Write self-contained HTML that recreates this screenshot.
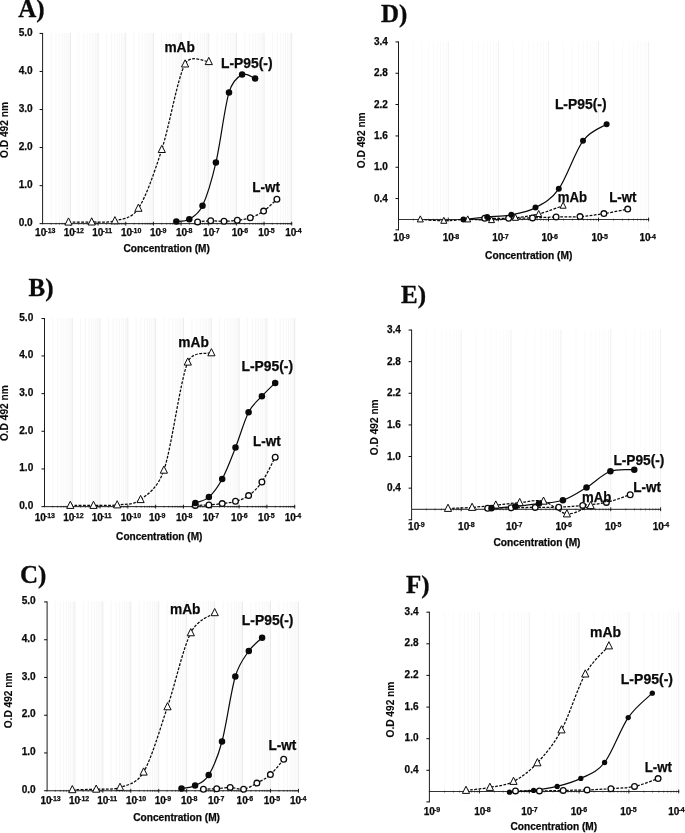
<!DOCTYPE html>
<html lang="en">
<head>
<meta charset="utf-8">
<title>ELISA binding curves A-F</title>
<style>
html,body{margin:0;padding:0;background:#fff;}
body{width:685px;height:833px;overflow:hidden;}
svg{display:block;will-change:transform;opacity:0.999;}
svg text{font-family:"Liberation Sans", Arial, Helvetica, sans-serif;font-weight:700;fill:#0a0a0a;stroke:#0a0a0a;stroke-width:0.25px;}
svg text.yt{stroke-width:0.1px;}
svg text.pn{font-family:"Liberation Serif", "Times New Roman", serif;stroke-width:0.3px;}
</style>
</head>
<body>
<svg width="685" height="833" viewBox="0 0 685 833">
<rect x="0" y="0" width="685" height="833" fill="#fff"/>
<g>
<path d="M51.13 32.9V223.1M56 32.9V223.1M59.45 32.9V223.1M62.13 32.9V223.1M64.32 32.9V223.1M66.17 32.9V223.1M67.78 32.9V223.1M69.19 32.9V223.1M78.78 32.9V223.1M83.65 32.9V223.1M87.11 32.9V223.1M89.79 32.9V223.1M91.98 32.9V223.1M93.83 32.9V223.1M95.43 32.9V223.1M96.85 32.9V223.1M106.44 32.9V223.1M111.31 32.9V223.1M114.76 32.9V223.1M117.44 32.9V223.1M119.63 32.9V223.1M121.48 32.9V223.1M123.09 32.9V223.1M124.5 32.9V223.1M134.09 32.9V223.1M138.96 32.9V223.1M142.42 32.9V223.1M145.1 32.9V223.1M147.29 32.9V223.1M149.14 32.9V223.1M150.74 32.9V223.1M152.16 32.9V223.1M161.75 32.9V223.1M166.62 32.9V223.1M170.07 32.9V223.1M172.75 32.9V223.1M174.94 32.9V223.1M176.79 32.9V223.1M178.4 32.9V223.1M179.81 32.9V223.1M189.4 32.9V223.1M194.27 32.9V223.1M197.73 32.9V223.1M200.41 32.9V223.1M202.6 32.9V223.1M204.45 32.9V223.1M206.05 32.9V223.1M207.47 32.9V223.1M217.06 32.9V223.1M221.93 32.9V223.1M225.38 32.9V223.1M228.06 32.9V223.1M230.25 32.9V223.1M232.1 32.9V223.1M233.71 32.9V223.1M235.12 32.9V223.1M244.71 32.9V223.1M249.58 32.9V223.1M253.04 32.9V223.1M255.72 32.9V223.1M257.91 32.9V223.1M259.76 32.9V223.1M261.36 32.9V223.1M262.78 32.9V223.1M272.37 32.9V223.1M277.24 32.9V223.1M280.69 32.9V223.1M283.37 32.9V223.1M285.56 32.9V223.1M287.42 32.9V223.1M289.02 32.9V223.1M290.43 32.9V223.1" stroke="#f6f6f6" stroke-width="0.9" fill="none"/>
<path d="M70.46 32.9V223.1M98.11 32.9V223.1M125.77 32.9V223.1M153.42 32.9V223.1M181.08 32.9V223.1M208.73 32.9V223.1M236.39 32.9V223.1M264.04 32.9V223.1M291.7 32.9V223.1" stroke="#ebebeb" stroke-width="1" fill="none"/>
<path d="M42.6 32.95V224.15" stroke="#1c1c1c" stroke-width="1" fill="none"/>
<path d="M42.1 223.65H292.2" stroke="#1c1c1c" stroke-width="1" fill="none"/>
<path d="M39.6 33.45H42.6M39.6 71.45H42.6M39.6 109.55H42.6M39.6 147.55H42.6M39.6 185.65H42.6M39.6 223.65H42.6" stroke="#0a0a0a" stroke-width="1" fill="none"/>
<path d="M51.13 222.75V224.95M56 222.75V224.95M59.45 222.75V224.95M62.13 222.75V224.95M64.32 222.75V224.95M66.17 222.75V224.95M67.78 222.75V224.95M69.19 222.75V224.95M78.78 222.75V224.95M83.65 222.75V224.95M87.11 222.75V224.95M89.79 222.75V224.95M91.98 222.75V224.95M93.83 222.75V224.95M95.43 222.75V224.95M96.85 222.75V224.95M106.44 222.75V224.95M111.31 222.75V224.95M114.76 222.75V224.95M117.44 222.75V224.95M119.63 222.75V224.95M121.48 222.75V224.95M123.09 222.75V224.95M124.5 222.75V224.95M134.09 222.75V224.95M138.96 222.75V224.95M142.42 222.75V224.95M145.1 222.75V224.95M147.29 222.75V224.95M149.14 222.75V224.95M150.74 222.75V224.95M152.16 222.75V224.95M161.75 222.75V224.95M166.62 222.75V224.95M170.07 222.75V224.95M172.75 222.75V224.95M174.94 222.75V224.95M176.79 222.75V224.95M178.4 222.75V224.95M179.81 222.75V224.95M189.4 222.75V224.95M194.27 222.75V224.95M197.73 222.75V224.95M200.41 222.75V224.95M202.6 222.75V224.95M204.45 222.75V224.95M206.05 222.75V224.95M207.47 222.75V224.95M217.06 222.75V224.95M221.93 222.75V224.95M225.38 222.75V224.95M228.06 222.75V224.95M230.25 222.75V224.95M232.1 222.75V224.95M233.71 222.75V224.95M235.12 222.75V224.95M244.71 222.75V224.95M249.58 222.75V224.95M253.04 222.75V224.95M255.72 222.75V224.95M257.91 222.75V224.95M259.76 222.75V224.95M261.36 222.75V224.95M262.78 222.75V224.95M272.37 222.75V224.95M277.24 222.75V224.95M280.69 222.75V224.95M283.37 222.75V224.95M285.56 222.75V224.95M287.42 222.75V224.95M289.02 222.75V224.95M290.43 222.75V224.95" stroke="#0a0a0a" stroke-width="0.55" fill="none" opacity="0.7"/>
<path d="M70.46 221.75V225.55M98.11 221.75V225.55M125.77 221.75V225.55M153.42 221.75V225.55M181.08 221.75V225.55M208.73 221.75V225.55M236.39 221.75V225.55M264.04 221.75V225.55M291.7 221.75V225.55" stroke="#0a0a0a" stroke-width="0.9" fill="none"/>
<text x="32.7" y="35.99" text-anchor="end" font-size="10.1">5.0</text>
<text x="32.7" y="73.99" text-anchor="end" font-size="10.1">4.0</text>
<text x="32.7" y="112.09" text-anchor="end" font-size="10.1">3.0</text>
<text x="32.7" y="150.09" text-anchor="end" font-size="10.1">2.0</text>
<text x="32.7" y="188.19" text-anchor="end" font-size="10.1">1.0</text>
<text x="32.7" y="226.19" text-anchor="end" font-size="10.1">0.0</text>
<text x="35.1" y="236.1" font-size="10">10</text><text x="45.3" y="233.4" font-size="7">-13</text>
<text x="63.7" y="236.1" font-size="10">10</text><text x="73.9" y="233.4" font-size="7">-12</text>
<text x="92.3" y="236.1" font-size="10">10</text><text x="102.5" y="233.4" font-size="7">-11</text>
<text x="121" y="236.1" font-size="10">10</text><text x="131.2" y="233.4" font-size="7">-10</text>
<text x="150" y="236.1" font-size="10">10</text><text x="160.2" y="233.4" font-size="7">-9</text>
<text x="176" y="236.1" font-size="10">10</text><text x="186.2" y="233.4" font-size="7">-8</text>
<text x="203.1" y="236.1" font-size="10">10</text><text x="213.3" y="233.4" font-size="7">-7</text>
<text x="231.7" y="236.1" font-size="10">10</text><text x="241.9" y="233.4" font-size="7">-6</text>
<text x="258.3" y="236.1" font-size="10">10</text><text x="268.5" y="233.4" font-size="7">-5</text>
<text x="285.3" y="236.1" font-size="10">10</text><text x="295.5" y="233.4" font-size="7">-4</text>
<text x="123.5" y="251.7" font-size="10" textLength="86.3" lengthAdjust="spacingAndGlyphs">Concentration (M)</text>
<text class="yt" transform="translate(8.3 130) rotate(-90)" x="-27.9" font-size="10.4" textLength="55.8" lengthAdjust="spacingAndGlyphs">O.D 492 nm</text>
<text class="pn" x="18.2" y="16.7" font-size="25">A)</text>
<path d="M68.5 222.1 C72.37 222.08 83.97 222.22 91.7 222 C99.43 221.78 107.12 223.08 114.9 220.8 C122.68 218.52 131.09 219.42 138.4 208.3 C146.22 196.42 154.02 173.55 161.8 149.5 C169.58 125.45 177.27 78.65 185.1 64 C190.72 53.5 204.85 62 208.8 61.6" stroke="#0a0a0a" stroke-width="1.25" stroke-dasharray="2.8 1.4" fill="none"/>
<path d="M197.6 221.9 C199.78 221.72 206.3 220.9 210.7 220.8 C215.1 220.7 219.57 221.38 224 221.3 C228.43 221.22 232.92 220.88 237.3 220.3 C241.68 219.72 245.92 219.33 250.3 217.8 C254.68 216.27 259.17 214.18 263.6 211.1 C268.03 208.02 274.68 201.27 276.9 199.3" stroke="#0a0a0a" stroke-width="1.25" stroke-dasharray="2.8 1.4" fill="none"/>
<path d="M176.3 221.6 C178.47 221.22 184.93 221.93 189.3 219.3 C193.67 216.67 198.49 214.35 202.5 205.8 C206.93 196.35 211.48 181.5 215.9 162.6 C220.32 143.7 224.63 107.07 229 92.4 C232.15 81.81 237.75 76.9 242.1 74.6 C246.45 72.3 252.93 77.93 255.1 78.6" stroke="#0a0a0a" stroke-width="1.2" fill="none"/>
<path d="M68.5 217.9L72.1 225.1L64.9 225.1Z" fill="#fff" stroke="#0a0a0a" stroke-width="1"/>
<path d="M91.7 217.8L95.3 225L88.1 225Z" fill="#fff" stroke="#0a0a0a" stroke-width="1"/>
<path d="M114.9 216.6L118.5 223.8L111.3 223.8Z" fill="#fff" stroke="#0a0a0a" stroke-width="1"/>
<path d="M138.4 204.1L142 211.3L134.8 211.3Z" fill="#fff" stroke="#0a0a0a" stroke-width="1"/>
<path d="M161.8 145.3L165.4 152.5L158.2 152.5Z" fill="#fff" stroke="#0a0a0a" stroke-width="1"/>
<path d="M185.1 59.8L188.7 67L181.5 67Z" fill="#fff" stroke="#0a0a0a" stroke-width="1"/>
<path d="M208.8 57.4L212.4 64.6L205.2 64.6Z" fill="#fff" stroke="#0a0a0a" stroke-width="1"/>
<circle cx="197.6" cy="221.9" r="2.85" fill="#fff" stroke="#0a0a0a" stroke-width="1.3"/>
<circle cx="210.7" cy="220.8" r="2.85" fill="#fff" stroke="#0a0a0a" stroke-width="1.3"/>
<circle cx="224" cy="221.3" r="2.85" fill="#fff" stroke="#0a0a0a" stroke-width="1.3"/>
<circle cx="237.3" cy="220.3" r="2.85" fill="#fff" stroke="#0a0a0a" stroke-width="1.3"/>
<circle cx="250.3" cy="217.8" r="2.85" fill="#fff" stroke="#0a0a0a" stroke-width="1.3"/>
<circle cx="263.6" cy="211.1" r="2.85" fill="#fff" stroke="#0a0a0a" stroke-width="1.3"/>
<circle cx="276.9" cy="199.3" r="2.85" fill="#fff" stroke="#0a0a0a" stroke-width="1.3"/>
<circle cx="176.3" cy="221.6" r="3.25" fill="#0a0a0a"/>
<circle cx="189.3" cy="219.3" r="3.25" fill="#0a0a0a"/>
<circle cx="202.5" cy="205.8" r="3.25" fill="#0a0a0a"/>
<circle cx="215.9" cy="162.6" r="3.25" fill="#0a0a0a"/>
<circle cx="229" cy="92.4" r="3.25" fill="#0a0a0a"/>
<circle cx="242.1" cy="74.6" r="3.25" fill="#0a0a0a"/>
<circle cx="255.1" cy="78.6" r="3.25" fill="#0a0a0a"/>
<text x="164.4" y="52.2" font-size="13.8" textLength="30.5" lengthAdjust="spacingAndGlyphs">mAb</text>
<text x="221" y="68.3" font-size="13.8" textLength="51.6" lengthAdjust="spacingAndGlyphs">L-P95(-)</text>
<text x="252.3" y="191.5" font-size="13.8" textLength="27.7" lengthAdjust="spacingAndGlyphs">L-wt</text>
</g>
<g>
<path d="M52.77 318V506.1M57.67 318V506.1M61.14 318V506.1M63.84 318V506.1M66.04 318V506.1M67.9 318V506.1M69.52 318V506.1M70.94 318V506.1M80.58 318V506.1M85.48 318V506.1M88.96 318V506.1M91.65 318V506.1M93.85 318V506.1M95.71 318V506.1M97.33 318V506.1M98.75 318V506.1M108.39 318V506.1M113.29 318V506.1M116.77 318V506.1M119.46 318V506.1M121.66 318V506.1M123.53 318V506.1M125.14 318V506.1M126.56 318V506.1M136.21 318V506.1M141.1 318V506.1M144.58 318V506.1M147.27 318V506.1M149.47 318V506.1M151.34 318V506.1M152.95 318V506.1M154.37 318V506.1M164.02 318V506.1M168.91 318V506.1M172.39 318V506.1M175.08 318V506.1M177.29 318V506.1M179.15 318V506.1M180.76 318V506.1M182.18 318V506.1M191.83 318V506.1M196.72 318V506.1M200.2 318V506.1M202.89 318V506.1M205.1 318V506.1M206.96 318V506.1M208.57 318V506.1M209.99 318V506.1M219.64 318V506.1M224.54 318V506.1M228.01 318V506.1M230.71 318V506.1M232.91 318V506.1M234.77 318V506.1M236.38 318V506.1M237.81 318V506.1M247.45 318V506.1M252.35 318V506.1M255.82 318V506.1M258.52 318V506.1M260.72 318V506.1M262.58 318V506.1M264.19 318V506.1M265.62 318V506.1M275.26 318V506.1M280.16 318V506.1M283.63 318V506.1M286.33 318V506.1M288.53 318V506.1M290.39 318V506.1M292 318V506.1M293.43 318V506.1" stroke="#f6f6f6" stroke-width="0.9" fill="none"/>
<path d="M72.21 318V506.1M100.02 318V506.1M127.83 318V506.1M155.64 318V506.1M183.46 318V506.1M211.27 318V506.1M239.08 318V506.1M266.89 318V506.1M294.7 318V506.1" stroke="#ebebeb" stroke-width="1" fill="none"/>
<path d="M44.5 318.05V507.15" stroke="#1c1c1c" stroke-width="1" fill="none"/>
<path d="M44 506.65H295.2" stroke="#1c1c1c" stroke-width="1" fill="none"/>
<path d="M41.5 318.55H44.5M41.5 355.95H44.5M41.5 393.65H44.5M41.5 431.25H44.5M41.5 468.95H44.5M41.5 506.65H44.5" stroke="#0a0a0a" stroke-width="1" fill="none"/>
<path d="M52.77 505.75V507.95M57.67 505.75V507.95M61.14 505.75V507.95M63.84 505.75V507.95M66.04 505.75V507.95M67.9 505.75V507.95M69.52 505.75V507.95M70.94 505.75V507.95M80.58 505.75V507.95M85.48 505.75V507.95M88.96 505.75V507.95M91.65 505.75V507.95M93.85 505.75V507.95M95.71 505.75V507.95M97.33 505.75V507.95M98.75 505.75V507.95M108.39 505.75V507.95M113.29 505.75V507.95M116.77 505.75V507.95M119.46 505.75V507.95M121.66 505.75V507.95M123.53 505.75V507.95M125.14 505.75V507.95M126.56 505.75V507.95M136.21 505.75V507.95M141.1 505.75V507.95M144.58 505.75V507.95M147.27 505.75V507.95M149.47 505.75V507.95M151.34 505.75V507.95M152.95 505.75V507.95M154.37 505.75V507.95M164.02 505.75V507.95M168.91 505.75V507.95M172.39 505.75V507.95M175.08 505.75V507.95M177.29 505.75V507.95M179.15 505.75V507.95M180.76 505.75V507.95M182.18 505.75V507.95M191.83 505.75V507.95M196.72 505.75V507.95M200.2 505.75V507.95M202.89 505.75V507.95M205.1 505.75V507.95M206.96 505.75V507.95M208.57 505.75V507.95M209.99 505.75V507.95M219.64 505.75V507.95M224.54 505.75V507.95M228.01 505.75V507.95M230.71 505.75V507.95M232.91 505.75V507.95M234.77 505.75V507.95M236.38 505.75V507.95M237.81 505.75V507.95M247.45 505.75V507.95M252.35 505.75V507.95M255.82 505.75V507.95M258.52 505.75V507.95M260.72 505.75V507.95M262.58 505.75V507.95M264.19 505.75V507.95M265.62 505.75V507.95M275.26 505.75V507.95M280.16 505.75V507.95M283.63 505.75V507.95M286.33 505.75V507.95M288.53 505.75V507.95M290.39 505.75V507.95M292 505.75V507.95M293.43 505.75V507.95" stroke="#0a0a0a" stroke-width="0.55" fill="none" opacity="0.7"/>
<path d="M72.21 504.75V508.55M100.02 504.75V508.55M127.83 504.75V508.55M155.64 504.75V508.55M183.46 504.75V508.55M211.27 504.75V508.55M239.08 504.75V508.55M266.89 504.75V508.55M294.7 504.75V508.55" stroke="#0a0a0a" stroke-width="0.9" fill="none"/>
<text x="33.3" y="321.09" text-anchor="end" font-size="10.1">5.0</text>
<text x="33.3" y="358.49" text-anchor="end" font-size="10.1">4.0</text>
<text x="33.3" y="396.19" text-anchor="end" font-size="10.1">3.0</text>
<text x="33.3" y="433.79" text-anchor="end" font-size="10.1">2.0</text>
<text x="33.3" y="471.49" text-anchor="end" font-size="10.1">1.0</text>
<text x="33.3" y="509.19" text-anchor="end" font-size="10.1">0.0</text>
<text x="34.7" y="520.9" font-size="10">10</text><text x="44.9" y="518.2" font-size="7">-13</text>
<text x="63.3" y="520.9" font-size="10">10</text><text x="73.5" y="518.2" font-size="7">-12</text>
<text x="91.7" y="520.9" font-size="10">10</text><text x="101.9" y="518.2" font-size="7">-11</text>
<text x="120.8" y="520.9" font-size="10">10</text><text x="131" y="518.2" font-size="7">-10</text>
<text x="149" y="520.9" font-size="10">10</text><text x="159.2" y="518.2" font-size="7">-9</text>
<text x="176" y="520.9" font-size="10">10</text><text x="186.2" y="518.2" font-size="7">-8</text>
<text x="202.7" y="520.9" font-size="10">10</text><text x="212.9" y="518.2" font-size="7">-7</text>
<text x="231.1" y="520.9" font-size="10">10</text><text x="241.3" y="518.2" font-size="7">-6</text>
<text x="258.1" y="520.9" font-size="10">10</text><text x="268.3" y="518.2" font-size="7">-5</text>
<text x="284.7" y="520.9" font-size="10">10</text><text x="294.9" y="518.2" font-size="7">-4</text>
<text x="116.1" y="540" font-size="10" textLength="86.3" lengthAdjust="spacingAndGlyphs">Concentration (M)</text>
<text class="yt" transform="translate(8.3 413.2) rotate(-90)" x="-27.9" font-size="10.4" textLength="55.8" lengthAdjust="spacingAndGlyphs">O.D 492 nm</text>
<text class="pn" x="28.6" y="296.2" font-size="25">B)</text>
<path d="M70.3 505.4 C74.17 505.4 85.68 505.48 93.5 505.4 C101.32 505.32 109.35 505.87 117.2 504.9 C125.05 503.93 132.82 505.38 140.6 499.6 C148.38 493.82 157.81 487.94 163.9 470.2 C171.77 447.28 179.88 381.67 187.8 362.1 C192.56 350.34 207.47 354.35 211.4 352.8" stroke="#0a0a0a" stroke-width="1.25" stroke-dasharray="2.8 1.4" fill="none"/>
<path d="M195.3 505.4 C197.57 505.32 204.42 505.2 208.9 504.9 C213.38 504.6 217.77 504.2 222.2 503.6 C226.63 503 231.1 502.63 235.5 501.3 C239.9 499.97 244.2 498.82 248.6 495.6 C253 492.38 257.47 488.4 261.9 482 C266.33 475.6 272.98 461.33 275.2 457.2" stroke="#0a0a0a" stroke-width="1.25" stroke-dasharray="2.8 1.4" fill="none"/>
<path d="M195.3 502.9 C197.57 501.93 204.42 501.08 208.9 497.1 C213.38 493.12 217.77 487.25 222.2 479 C226.63 470.75 231.1 458.72 235.5 447.6 C239.9 436.48 244.2 420.87 248.6 412.3 C253 403.73 257.47 401.1 261.9 396.2 C266.33 391.3 272.98 385.12 275.2 382.9" stroke="#0a0a0a" stroke-width="1.2" fill="none"/>
<path d="M70.3 501.2L73.9 508.4L66.7 508.4Z" fill="#fff" stroke="#0a0a0a" stroke-width="1"/>
<path d="M93.5 501.2L97.1 508.4L89.9 508.4Z" fill="#fff" stroke="#0a0a0a" stroke-width="1"/>
<path d="M117.2 500.7L120.8 507.9L113.6 507.9Z" fill="#fff" stroke="#0a0a0a" stroke-width="1"/>
<path d="M140.6 495.4L144.2 502.6L137 502.6Z" fill="#fff" stroke="#0a0a0a" stroke-width="1"/>
<path d="M163.9 466L167.5 473.2L160.3 473.2Z" fill="#fff" stroke="#0a0a0a" stroke-width="1"/>
<path d="M187.8 357.9L191.4 365.1L184.2 365.1Z" fill="#fff" stroke="#0a0a0a" stroke-width="1"/>
<path d="M211.4 348.6L215 355.8L207.8 355.8Z" fill="#fff" stroke="#0a0a0a" stroke-width="1"/>
<circle cx="195.3" cy="505.4" r="2.85" fill="#fff" stroke="#0a0a0a" stroke-width="1.3"/>
<circle cx="208.9" cy="504.9" r="2.85" fill="#fff" stroke="#0a0a0a" stroke-width="1.3"/>
<circle cx="222.2" cy="503.6" r="2.85" fill="#fff" stroke="#0a0a0a" stroke-width="1.3"/>
<circle cx="235.5" cy="501.3" r="2.85" fill="#fff" stroke="#0a0a0a" stroke-width="1.3"/>
<circle cx="248.6" cy="495.6" r="2.85" fill="#fff" stroke="#0a0a0a" stroke-width="1.3"/>
<circle cx="261.9" cy="482" r="2.85" fill="#fff" stroke="#0a0a0a" stroke-width="1.3"/>
<circle cx="275.2" cy="457.2" r="2.85" fill="#fff" stroke="#0a0a0a" stroke-width="1.3"/>
<circle cx="195.3" cy="502.9" r="3.25" fill="#0a0a0a"/>
<circle cx="208.9" cy="497.1" r="3.25" fill="#0a0a0a"/>
<circle cx="222.2" cy="479" r="3.25" fill="#0a0a0a"/>
<circle cx="235.5" cy="447.6" r="3.25" fill="#0a0a0a"/>
<circle cx="248.6" cy="412.3" r="3.25" fill="#0a0a0a"/>
<circle cx="261.9" cy="396.2" r="3.25" fill="#0a0a0a"/>
<circle cx="275.2" cy="382.9" r="3.25" fill="#0a0a0a"/>
<text x="178.3" y="347.3" font-size="13.8" textLength="30.5" lengthAdjust="spacingAndGlyphs">mAb</text>
<text x="241.5" y="371.3" font-size="13.8" textLength="51.6" lengthAdjust="spacingAndGlyphs">L-P95(-)</text>
<text x="253.1" y="445.6" font-size="13.8" textLength="27.7" lengthAdjust="spacingAndGlyphs">L-wt</text>
</g>
<g>
<path d="M55.32 601.4V790.2M60.24 601.4V790.2M63.73 601.4V790.2M66.44 601.4V790.2M68.65 601.4V790.2M70.53 601.4V790.2M72.15 601.4V790.2M73.58 601.4V790.2M83.27 601.4V790.2M88.19 601.4V790.2M91.69 601.4V790.2M94.4 601.4V790.2M96.61 601.4V790.2M98.48 601.4V790.2M100.1 601.4V790.2M101.53 601.4V790.2M111.23 601.4V790.2M116.15 601.4V790.2M119.64 601.4V790.2M122.35 601.4V790.2M124.56 601.4V790.2M126.44 601.4V790.2M128.06 601.4V790.2M129.49 601.4V790.2M139.18 601.4V790.2M144.1 601.4V790.2M147.6 601.4V790.2M150.31 601.4V790.2M152.52 601.4V790.2M154.39 601.4V790.2M156.01 601.4V790.2M157.44 601.4V790.2M167.14 601.4V790.2M172.06 601.4V790.2M175.55 601.4V790.2M178.26 601.4V790.2M180.48 601.4V790.2M182.35 601.4V790.2M183.97 601.4V790.2M185.4 601.4V790.2M195.09 601.4V790.2M200.02 601.4V790.2M203.51 601.4V790.2M206.22 601.4V790.2M208.43 601.4V790.2M210.3 601.4V790.2M211.92 601.4V790.2M213.35 601.4V790.2M223.05 601.4V790.2M227.97 601.4V790.2M231.46 601.4V790.2M234.17 601.4V790.2M236.39 601.4V790.2M238.26 601.4V790.2M239.88 601.4V790.2M241.31 601.4V790.2M251 601.4V790.2M255.93 601.4V790.2M259.42 601.4V790.2M262.13 601.4V790.2M264.34 601.4V790.2M266.21 601.4V790.2M267.84 601.4V790.2M269.27 601.4V790.2M278.96 601.4V790.2M283.88 601.4V790.2M287.38 601.4V790.2M290.08 601.4V790.2M292.3 601.4V790.2M294.17 601.4V790.2M295.79 601.4V790.2M297.22 601.4V790.2" stroke="#f6f6f6" stroke-width="0.9" fill="none"/>
<path d="M74.86 601.4V790.2M102.81 601.4V790.2M130.77 601.4V790.2M158.72 601.4V790.2M186.68 601.4V790.2M214.63 601.4V790.2M242.59 601.4V790.2M270.54 601.4V790.2M298.5 601.4V790.2" stroke="#ebebeb" stroke-width="1" fill="none"/>
<path d="M47.1 601.45V791.25" stroke="#1c1c1c" stroke-width="1" fill="none"/>
<path d="M46.6 790.75H299" stroke="#1c1c1c" stroke-width="1" fill="none"/>
<path d="M44.1 601.95H47.1M44.1 639.75H47.1M44.1 677.45H47.1M44.1 715.25H47.1M44.1 752.95H47.1M44.1 790.75H47.1" stroke="#0a0a0a" stroke-width="1" fill="none"/>
<path d="M55.32 789.85V792.05M60.24 789.85V792.05M63.73 789.85V792.05M66.44 789.85V792.05M68.65 789.85V792.05M70.53 789.85V792.05M72.15 789.85V792.05M73.58 789.85V792.05M83.27 789.85V792.05M88.19 789.85V792.05M91.69 789.85V792.05M94.4 789.85V792.05M96.61 789.85V792.05M98.48 789.85V792.05M100.1 789.85V792.05M101.53 789.85V792.05M111.23 789.85V792.05M116.15 789.85V792.05M119.64 789.85V792.05M122.35 789.85V792.05M124.56 789.85V792.05M126.44 789.85V792.05M128.06 789.85V792.05M129.49 789.85V792.05M139.18 789.85V792.05M144.1 789.85V792.05M147.6 789.85V792.05M150.31 789.85V792.05M152.52 789.85V792.05M154.39 789.85V792.05M156.01 789.85V792.05M157.44 789.85V792.05M167.14 789.85V792.05M172.06 789.85V792.05M175.55 789.85V792.05M178.26 789.85V792.05M180.48 789.85V792.05M182.35 789.85V792.05M183.97 789.85V792.05M185.4 789.85V792.05M195.09 789.85V792.05M200.02 789.85V792.05M203.51 789.85V792.05M206.22 789.85V792.05M208.43 789.85V792.05M210.3 789.85V792.05M211.92 789.85V792.05M213.35 789.85V792.05M223.05 789.85V792.05M227.97 789.85V792.05M231.46 789.85V792.05M234.17 789.85V792.05M236.39 789.85V792.05M238.26 789.85V792.05M239.88 789.85V792.05M241.31 789.85V792.05M251 789.85V792.05M255.93 789.85V792.05M259.42 789.85V792.05M262.13 789.85V792.05M264.34 789.85V792.05M266.21 789.85V792.05M267.84 789.85V792.05M269.27 789.85V792.05M278.96 789.85V792.05M283.88 789.85V792.05M287.38 789.85V792.05M290.08 789.85V792.05M292.3 789.85V792.05M294.17 789.85V792.05M295.79 789.85V792.05M297.22 789.85V792.05" stroke="#0a0a0a" stroke-width="0.55" fill="none" opacity="0.7"/>
<path d="M74.86 788.85V792.65M102.81 788.85V792.65M130.77 788.85V792.65M158.72 788.85V792.65M186.68 788.85V792.65M214.63 788.85V792.65M242.59 788.85V792.65M270.54 788.85V792.65M298.5 788.85V792.65" stroke="#0a0a0a" stroke-width="0.9" fill="none"/>
<text x="35.7" y="604.19" text-anchor="end" font-size="10.1">5.0</text>
<text x="35.7" y="641.99" text-anchor="end" font-size="10.1">4.0</text>
<text x="35.7" y="679.69" text-anchor="end" font-size="10.1">3.0</text>
<text x="35.7" y="717.49" text-anchor="end" font-size="10.1">2.0</text>
<text x="35.7" y="755.19" text-anchor="end" font-size="10.1">1.0</text>
<text x="35.7" y="792.99" text-anchor="end" font-size="10.1">0.0</text>
<text x="40.4" y="804" font-size="10">10</text><text x="50.6" y="801.3" font-size="7">-13</text>
<text x="68.9" y="804" font-size="10">10</text><text x="79.1" y="801.3" font-size="7">-12</text>
<text x="97.3" y="804" font-size="10">10</text><text x="107.5" y="801.3" font-size="7">-11</text>
<text x="125.9" y="804" font-size="10">10</text><text x="136.1" y="801.3" font-size="7">-10</text>
<text x="154.7" y="804" font-size="10">10</text><text x="164.9" y="801.3" font-size="7">-9</text>
<text x="181" y="804" font-size="10">10</text><text x="191.2" y="801.3" font-size="7">-8</text>
<text x="207.9" y="804" font-size="10">10</text><text x="218.1" y="801.3" font-size="7">-7</text>
<text x="236.6" y="804" font-size="10">10</text><text x="246.8" y="801.3" font-size="7">-6</text>
<text x="263.7" y="804" font-size="10">10</text><text x="273.9" y="801.3" font-size="7">-5</text>
<text x="289.9" y="804" font-size="10">10</text><text x="300.1" y="801.3" font-size="7">-4</text>
<text x="133.2" y="820.6" font-size="10" textLength="86.8" lengthAdjust="spacingAndGlyphs">Concentration (M)</text>
<text class="yt" transform="translate(12.2 700.4) rotate(-90)" x="-27.9" font-size="10.4" textLength="55.8" lengthAdjust="spacingAndGlyphs">O.D 492 nm</text>
<text class="pn" x="20" y="583" font-size="25">C)</text>
<path d="M72.3 789.7 C76.28 789.62 88.25 789.58 96.2 789.2 C104.15 788.82 112.1 790.25 120 787.4 C127.9 784.55 136.46 784.22 143.6 772.1 C151.52 758.67 159.63 730.02 167.5 706.8 C175.37 683.58 182.93 648.48 190.8 632.8 C197.8 618.84 210.72 616.05 214.7 612.7" stroke="#0a0a0a" stroke-width="1.25" stroke-dasharray="2.8 1.4" fill="none"/>
<path d="M203.4 789.2 C205.62 789.12 212.23 789 216.7 788.7 C221.17 788.4 225.72 787.32 230.2 787.4 C234.68 787.48 239.15 789.92 243.6 789.2 C248.05 788.48 252.43 785.53 256.9 783.1 C261.37 780.67 265.93 778.57 270.4 774.6 C274.87 770.63 281.48 761.85 283.7 759.3" stroke="#0a0a0a" stroke-width="1.25" stroke-dasharray="2.8 1.4" fill="none"/>
<path d="M181.5 788.4 C183.77 787.93 190.57 787.82 195.1 785.6 C199.63 783.38 204.23 782.43 208.7 775.1 C213.18 767.75 217.57 757.93 222 741.5 C226.43 725.07 230.83 691.57 235.3 676.5 C239.39 662.71 244.33 657.55 248.8 651.1 C253.27 644.65 259.88 640.02 262.1 637.8" stroke="#0a0a0a" stroke-width="1.2" fill="none"/>
<path d="M72.3 785.5L75.9 792.7L68.7 792.7Z" fill="#fff" stroke="#0a0a0a" stroke-width="1"/>
<path d="M96.2 785L99.8 792.2L92.6 792.2Z" fill="#fff" stroke="#0a0a0a" stroke-width="1"/>
<path d="M120 783.2L123.6 790.4L116.4 790.4Z" fill="#fff" stroke="#0a0a0a" stroke-width="1"/>
<path d="M143.6 767.9L147.2 775.1L140 775.1Z" fill="#fff" stroke="#0a0a0a" stroke-width="1"/>
<path d="M167.5 702.6L171.1 709.8L163.9 709.8Z" fill="#fff" stroke="#0a0a0a" stroke-width="1"/>
<path d="M190.8 628.6L194.4 635.8L187.2 635.8Z" fill="#fff" stroke="#0a0a0a" stroke-width="1"/>
<path d="M214.7 608.5L218.3 615.7L211.1 615.7Z" fill="#fff" stroke="#0a0a0a" stroke-width="1"/>
<circle cx="203.4" cy="789.2" r="2.85" fill="#fff" stroke="#0a0a0a" stroke-width="1.3"/>
<circle cx="216.7" cy="788.7" r="2.85" fill="#fff" stroke="#0a0a0a" stroke-width="1.3"/>
<circle cx="230.2" cy="787.4" r="2.85" fill="#fff" stroke="#0a0a0a" stroke-width="1.3"/>
<circle cx="243.6" cy="789.2" r="2.85" fill="#fff" stroke="#0a0a0a" stroke-width="1.3"/>
<circle cx="256.9" cy="783.1" r="2.85" fill="#fff" stroke="#0a0a0a" stroke-width="1.3"/>
<circle cx="270.4" cy="774.6" r="2.85" fill="#fff" stroke="#0a0a0a" stroke-width="1.3"/>
<circle cx="283.7" cy="759.3" r="2.85" fill="#fff" stroke="#0a0a0a" stroke-width="1.3"/>
<circle cx="181.5" cy="788.4" r="3.25" fill="#0a0a0a"/>
<circle cx="195.1" cy="785.6" r="3.25" fill="#0a0a0a"/>
<circle cx="208.7" cy="775.1" r="3.25" fill="#0a0a0a"/>
<circle cx="222" cy="741.5" r="3.25" fill="#0a0a0a"/>
<circle cx="235.3" cy="676.5" r="3.25" fill="#0a0a0a"/>
<circle cx="248.8" cy="651.1" r="3.25" fill="#0a0a0a"/>
<circle cx="262.1" cy="637.8" r="3.25" fill="#0a0a0a"/>
<text x="169.9" y="614" font-size="13.8" textLength="30.6" lengthAdjust="spacingAndGlyphs">mAb</text>
<text x="241.8" y="624.8" font-size="13.8" textLength="51.7" lengthAdjust="spacingAndGlyphs">L-P95(-)</text>
<text x="268.4" y="750.2" font-size="13.8" textLength="28" lengthAdjust="spacingAndGlyphs">L-wt</text>
</g>
<g>
<path d="M413.28 41.4V229.3M422.09 41.4V229.3M428.35 41.4V229.3M433.2 41.4V229.3M437.17 41.4V229.3M440.52 41.4V229.3M443.43 41.4V229.3M445.99 41.4V229.3M463.36 41.4V229.3M472.17 41.4V229.3M478.43 41.4V229.3M483.28 41.4V229.3M487.25 41.4V229.3M490.6 41.4V229.3M493.51 41.4V229.3M496.07 41.4V229.3M513.44 41.4V229.3M522.25 41.4V229.3M528.51 41.4V229.3M533.36 41.4V229.3M537.33 41.4V229.3M540.68 41.4V229.3M543.59 41.4V229.3M546.15 41.4V229.3M563.52 41.4V229.3M572.33 41.4V229.3M578.59 41.4V229.3M583.44 41.4V229.3M587.41 41.4V229.3M590.76 41.4V229.3M593.67 41.4V229.3M596.23 41.4V229.3M613.6 41.4V229.3M622.41 41.4V229.3M628.67 41.4V229.3M633.52 41.4V229.3M637.49 41.4V229.3M640.84 41.4V229.3M643.75 41.4V229.3M646.31 41.4V229.3" stroke="#f9f9f9" stroke-width="0.9" fill="none"/>
<path d="M448.28 41.4V229.3M498.36 41.4V229.3M548.44 41.4V229.3M598.52 41.4V229.3M648.6 41.4V229.3" stroke="#f0f0f0" stroke-width="1" fill="none"/>
<path d="M398.5 41.45V230.35" stroke="#1c1c1c" stroke-width="1" fill="none"/>
<path d="M398 219.5H649.1" stroke="#1c1c1c" stroke-width="0.9" fill="none"/>
<path d="M395.5 41.95H398.5M395.5 73.25H398.5M395.5 104.55H398.5M395.5 135.95H398.5M395.5 167.25H398.5M395.5 198.55H398.5M395.5 229.85H398.5" stroke="#0a0a0a" stroke-width="1" fill="none"/>
<path d="M413.28 218.6V220.8M422.09 218.6V220.8M428.35 218.6V220.8M433.2 218.6V220.8M437.17 218.6V220.8M440.52 218.6V220.8M443.43 218.6V220.8M445.99 218.6V220.8M463.36 218.6V220.8M472.17 218.6V220.8M478.43 218.6V220.8M483.28 218.6V220.8M487.25 218.6V220.8M490.6 218.6V220.8M493.51 218.6V220.8M496.07 218.6V220.8M513.44 218.6V220.8M522.25 218.6V220.8M528.51 218.6V220.8M533.36 218.6V220.8M537.33 218.6V220.8M540.68 218.6V220.8M543.59 218.6V220.8M546.15 218.6V220.8M563.52 218.6V220.8M572.33 218.6V220.8M578.59 218.6V220.8M583.44 218.6V220.8M587.41 218.6V220.8M590.76 218.6V220.8M593.67 218.6V220.8M596.23 218.6V220.8M613.6 218.6V220.8M622.41 218.6V220.8M628.67 218.6V220.8M633.52 218.6V220.8M637.49 218.6V220.8M640.84 218.6V220.8M643.75 218.6V220.8M646.31 218.6V220.8" stroke="#0a0a0a" stroke-width="0.55" fill="none" opacity="0.7"/>
<path d="M448.28 217.6V221.4M498.36 217.6V221.4M548.44 217.6V221.4M598.52 217.6V221.4M648.6 217.6V221.4" stroke="#0a0a0a" stroke-width="0.9" fill="none"/>
<text x="387.9" y="45.05" text-anchor="end" font-size="10">3.4</text>
<text x="387.9" y="76.35" text-anchor="end" font-size="10">2.8</text>
<text x="387.9" y="107.65" text-anchor="end" font-size="10">2.2</text>
<text x="387.9" y="139.05" text-anchor="end" font-size="10">1.6</text>
<text x="387.9" y="170.35" text-anchor="end" font-size="10">1.0</text>
<text x="387.9" y="201.65" text-anchor="end" font-size="10">0.4</text>
<text x="393.3" y="241.3" font-size="10">10</text><text x="403.5" y="238.6" font-size="7">-9</text>
<text x="442.7" y="241.3" font-size="10">10</text><text x="452.9" y="238.6" font-size="7">-8</text>
<text x="492.3" y="241.3" font-size="10">10</text><text x="502.5" y="238.6" font-size="7">-7</text>
<text x="541.4" y="241.3" font-size="10">10</text><text x="551.6" y="238.6" font-size="7">-6</text>
<text x="591.5" y="241.3" font-size="10">10</text><text x="601.7" y="238.6" font-size="7">-5</text>
<text x="639.4" y="241.3" font-size="10">10</text><text x="649.6" y="238.6" font-size="7">-4</text>
<text x="485.1" y="259" font-size="10" textLength="87.3" lengthAdjust="spacingAndGlyphs">Concentration (M)</text>
<text class="yt" transform="translate(365.1 140.3) rotate(-90)" x="-27.9" font-size="10.4" textLength="55.8" lengthAdjust="spacingAndGlyphs">O.D 492 nm</text>
<text class="pn" x="381" y="21.6" font-size="25">D)</text>
<path d="M420.3 219.4 C424.22 219.63 435.9 220.8 443.8 220.8 C451.7 220.8 459.75 219.52 467.7 219.4 C475.65 219.28 483.55 220.37 491.5 220.1 C499.45 219.83 507.53 218.82 515.4 217.8 C523.27 216.78 530.75 216.02 538.7 214 C546.65 211.98 559.03 207.08 563.1 205.7" stroke="#0a0a0a" stroke-width="1.25" stroke-dasharray="2.8 1.4" fill="none"/>
<path d="M484.7 218.3 C488.68 218.3 500.63 218.37 508.6 218.3 C516.57 218.23 524.58 218.12 532.5 217.9 C540.42 217.68 548.18 217.22 556.1 217 C564.02 216.78 572.03 217.17 580 216.6 C587.97 216.03 595.95 214.85 603.9 213.6 C611.85 212.35 623.73 209.85 627.7 209.1" stroke="#0a0a0a" stroke-width="1.25" stroke-dasharray="2.8 1.4" fill="none"/>
<path d="M463.4 219.5 C467.37 219.08 479.22 217.78 487.2 217 C495.18 216.22 503.25 216.37 511.3 214.8 C519.35 213.23 527.58 211.93 535.5 207.6 C543.42 203.27 550.88 199.93 558.8 188.8 C566.72 177.67 575.03 151.55 583 140.8 C590.97 130.05 602.67 127.05 606.6 124.3" stroke="#0a0a0a" stroke-width="1.2" fill="none"/>
<path d="M420.3 215.87L423.32 221.92L417.28 221.92Z" fill="#fff" stroke="#0a0a0a" stroke-width="1"/>
<path d="M443.8 217.27L446.82 223.32L440.78 223.32Z" fill="#fff" stroke="#0a0a0a" stroke-width="1"/>
<path d="M467.7 215.87L470.72 221.92L464.68 221.92Z" fill="#fff" stroke="#0a0a0a" stroke-width="1"/>
<path d="M491.5 216.57L494.52 222.62L488.48 222.62Z" fill="#fff" stroke="#0a0a0a" stroke-width="1"/>
<path d="M515.4 214.27L518.42 220.32L512.38 220.32Z" fill="#fff" stroke="#0a0a0a" stroke-width="1"/>
<path d="M538.7 210.47L541.72 216.52L535.68 216.52Z" fill="#fff" stroke="#0a0a0a" stroke-width="1"/>
<path d="M563.1 202.17L566.12 208.22L560.08 208.22Z" fill="#fff" stroke="#0a0a0a" stroke-width="1"/>
<circle cx="484.7" cy="218.3" r="2.85" fill="#fff" stroke="#0a0a0a" stroke-width="1.3"/>
<circle cx="508.6" cy="218.3" r="2.85" fill="#fff" stroke="#0a0a0a" stroke-width="1.3"/>
<circle cx="532.5" cy="217.9" r="2.85" fill="#fff" stroke="#0a0a0a" stroke-width="1.3"/>
<circle cx="556.1" cy="217" r="2.85" fill="#fff" stroke="#0a0a0a" stroke-width="1.3"/>
<circle cx="580" cy="216.6" r="2.85" fill="#fff" stroke="#0a0a0a" stroke-width="1.3"/>
<circle cx="603.9" cy="213.6" r="2.85" fill="#fff" stroke="#0a0a0a" stroke-width="1.3"/>
<circle cx="627.7" cy="209.1" r="2.85" fill="#fff" stroke="#0a0a0a" stroke-width="1.3"/>
<circle cx="463.4" cy="219.5" r="3" fill="#0a0a0a"/>
<circle cx="487.2" cy="217" r="3" fill="#0a0a0a"/>
<circle cx="511.3" cy="214.8" r="3" fill="#0a0a0a"/>
<circle cx="535.5" cy="207.6" r="3" fill="#0a0a0a"/>
<circle cx="558.8" cy="188.8" r="3" fill="#0a0a0a"/>
<circle cx="583" cy="140.8" r="3" fill="#0a0a0a"/>
<circle cx="606.6" cy="124.3" r="3" fill="#0a0a0a"/>
<text x="554.9" y="109.2" font-size="13.8" textLength="51.7" lengthAdjust="spacingAndGlyphs">L-P95(-)</text>
<text x="557.7" y="201.6" font-size="13.8" textLength="29.3" lengthAdjust="spacingAndGlyphs">mAb</text>
<text x="609.2" y="202.4" font-size="13.8" textLength="27.3" lengthAdjust="spacingAndGlyphs">L-wt</text>
</g>
<g>
<path d="M426.31 329.5V519.2M435.09 329.5V519.2M441.32 329.5V519.2M446.15 329.5V519.2M450.1 329.5V519.2M453.44 329.5V519.2M456.33 329.5V519.2M458.88 329.5V519.2M476.17 329.5V519.2M484.95 329.5V519.2M491.18 329.5V519.2M496.01 329.5V519.2M499.96 329.5V519.2M503.3 329.5V519.2M506.19 329.5V519.2M508.74 329.5V519.2M526.03 329.5V519.2M534.81 329.5V519.2M541.04 329.5V519.2M545.87 329.5V519.2M549.82 329.5V519.2M553.16 329.5V519.2M556.05 329.5V519.2M558.6 329.5V519.2M575.89 329.5V519.2M584.67 329.5V519.2M590.9 329.5V519.2M595.73 329.5V519.2M599.68 329.5V519.2M603.02 329.5V519.2M605.91 329.5V519.2M608.46 329.5V519.2M625.75 329.5V519.2M634.53 329.5V519.2M640.76 329.5V519.2M645.59 329.5V519.2M649.54 329.5V519.2M652.88 329.5V519.2M655.77 329.5V519.2M658.32 329.5V519.2" stroke="#f9f9f9" stroke-width="0.9" fill="none"/>
<path d="M461.16 329.5V519.2M511.02 329.5V519.2M560.88 329.5V519.2M610.74 329.5V519.2M660.6 329.5V519.2" stroke="#f0f0f0" stroke-width="1" fill="none"/>
<path d="M411.6 329.55V520.25" stroke="#1c1c1c" stroke-width="1" fill="none"/>
<path d="M411.1 509.25H661.1" stroke="#4a4a4a" stroke-width="1.25" fill="none"/>
<path d="M408.6 330.05H411.6M408.6 361.65H411.6M408.6 393.25H411.6M408.6 424.95H411.6M408.6 456.55H411.6M408.6 488.15H411.6M408.6 519.75H411.6" stroke="#0a0a0a" stroke-width="1" fill="none"/>
<path d="M426.31 508.35V510.55M435.09 508.35V510.55M441.32 508.35V510.55M446.15 508.35V510.55M450.1 508.35V510.55M453.44 508.35V510.55M456.33 508.35V510.55M458.88 508.35V510.55M476.17 508.35V510.55M484.95 508.35V510.55M491.18 508.35V510.55M496.01 508.35V510.55M499.96 508.35V510.55M503.3 508.35V510.55M506.19 508.35V510.55M508.74 508.35V510.55M526.03 508.35V510.55M534.81 508.35V510.55M541.04 508.35V510.55M545.87 508.35V510.55M549.82 508.35V510.55M553.16 508.35V510.55M556.05 508.35V510.55M558.6 508.35V510.55M575.89 508.35V510.55M584.67 508.35V510.55M590.9 508.35V510.55M595.73 508.35V510.55M599.68 508.35V510.55M603.02 508.35V510.55M605.91 508.35V510.55M608.46 508.35V510.55M625.75 508.35V510.55M634.53 508.35V510.55M640.76 508.35V510.55M645.59 508.35V510.55M649.54 508.35V510.55M652.88 508.35V510.55M655.77 508.35V510.55M658.32 508.35V510.55" stroke="#0a0a0a" stroke-width="0.55" fill="none" opacity="0.7"/>
<path d="M461.16 507.35V511.15M511.02 507.35V511.15M560.88 507.35V511.15M610.74 507.35V511.15M660.6 507.35V511.15" stroke="#0a0a0a" stroke-width="0.9" fill="none"/>
<text x="400.9" y="333.15" text-anchor="end" font-size="10">3.4</text>
<text x="400.9" y="364.75" text-anchor="end" font-size="10">2.8</text>
<text x="400.9" y="396.35" text-anchor="end" font-size="10">2.2</text>
<text x="400.9" y="428.05" text-anchor="end" font-size="10">1.6</text>
<text x="400.9" y="459.65" text-anchor="end" font-size="10">1.0</text>
<text x="400.9" y="491.25" text-anchor="end" font-size="10">0.4</text>
<text x="408.1" y="530" font-size="10">10</text><text x="418.3" y="527.3" font-size="7">-9</text>
<text x="458.1" y="530" font-size="10">10</text><text x="468.3" y="527.3" font-size="7">-8</text>
<text x="506" y="530" font-size="10">10</text><text x="516.2" y="527.3" font-size="7">-7</text>
<text x="555.5" y="530" font-size="10">10</text><text x="565.7" y="527.3" font-size="7">-6</text>
<text x="605" y="530" font-size="10">10</text><text x="615.2" y="527.3" font-size="7">-5</text>
<text x="652.8" y="530" font-size="10">10</text><text x="663" y="527.3" font-size="7">-4</text>
<text x="493.5" y="546.4" font-size="10" textLength="87" lengthAdjust="spacingAndGlyphs">Concentration (M)</text>
<text class="yt" transform="translate(378 427.3) rotate(-90)" x="-27.9" font-size="10.4" textLength="55.8" lengthAdjust="spacingAndGlyphs">O.D 492 nm</text>
<text class="pn" x="401.1" y="303.4" font-size="25">E)</text>
<path d="M448 508.4 C452.02 508.23 464.13 507.95 472.1 507.4 C480.07 506.85 487.87 505.9 495.8 505.1 C503.73 504.3 511.75 503.25 519.7 502.6 C527.65 501.95 535.63 499.32 543.5 501.2 C551.37 503.08 559.03 513.17 566.9 513.9 C574.77 514.63 586.73 506.98 590.7 505.6" stroke="#0a0a0a" stroke-width="1.25" stroke-dasharray="2.8 1.4" fill="none"/>
<path d="M487.7 508.3 C491.6 508.22 503.18 507.95 511.1 507.8 C519.02 507.65 527.27 507.5 535.2 507.4 C543.13 507.3 550.78 507.53 558.7 507.2 C566.62 506.87 574.75 506.2 582.7 505.4 C590.65 504.6 598.48 504.18 606.4 502.4 C614.32 500.62 626.23 495.98 630.2 494.7" stroke="#0a0a0a" stroke-width="1.25" stroke-dasharray="2.8 1.4" fill="none"/>
<path d="M491.5 508.3 C495.48 508 507.48 507.28 515.4 506.5 C523.32 505.72 531.08 504.63 539 503.6 C546.92 502.57 554.98 502.98 562.9 500.3 C570.82 497.62 578.58 492.33 586.5 487.5 C594.42 482.67 602.43 474.25 610.4 471.3 C618.37 468.35 630.32 470.05 634.3 469.8" stroke="#0a0a0a" stroke-width="1.2" fill="none"/>
<path d="M448 504.2L451.6 511.4L444.4 511.4Z" fill="#fff" stroke="#0a0a0a" stroke-width="1"/>
<path d="M472.1 503.2L475.7 510.4L468.5 510.4Z" fill="#fff" stroke="#0a0a0a" stroke-width="1"/>
<path d="M495.8 500.9L499.4 508.1L492.2 508.1Z" fill="#fff" stroke="#0a0a0a" stroke-width="1"/>
<path d="M519.7 498.4L523.3 505.6L516.1 505.6Z" fill="#fff" stroke="#0a0a0a" stroke-width="1"/>
<path d="M543.5 497L547.1 504.2L539.9 504.2Z" fill="#fff" stroke="#0a0a0a" stroke-width="1"/>
<path d="M566.9 509.7L570.5 516.9L563.3 516.9Z" fill="#fff" stroke="#0a0a0a" stroke-width="1"/>
<path d="M590.7 501.4L594.3 508.6L587.1 508.6Z" fill="#fff" stroke="#0a0a0a" stroke-width="1"/>
<circle cx="487.7" cy="508.3" r="2.85" fill="#fff" stroke="#0a0a0a" stroke-width="1.3"/>
<circle cx="511.1" cy="507.8" r="2.85" fill="#fff" stroke="#0a0a0a" stroke-width="1.3"/>
<circle cx="535.2" cy="507.4" r="2.85" fill="#fff" stroke="#0a0a0a" stroke-width="1.3"/>
<circle cx="558.7" cy="507.2" r="2.85" fill="#fff" stroke="#0a0a0a" stroke-width="1.3"/>
<circle cx="582.7" cy="505.4" r="2.85" fill="#fff" stroke="#0a0a0a" stroke-width="1.3"/>
<circle cx="606.4" cy="502.4" r="2.85" fill="#fff" stroke="#0a0a0a" stroke-width="1.3"/>
<circle cx="630.2" cy="494.7" r="2.85" fill="#fff" stroke="#0a0a0a" stroke-width="1.3"/>
<circle cx="491.5" cy="508.3" r="3.25" fill="#0a0a0a"/>
<circle cx="515.4" cy="506.5" r="3.25" fill="#0a0a0a"/>
<circle cx="539" cy="503.6" r="3.25" fill="#0a0a0a"/>
<circle cx="562.9" cy="500.3" r="3.25" fill="#0a0a0a"/>
<circle cx="586.5" cy="487.5" r="3.25" fill="#0a0a0a"/>
<circle cx="610.4" cy="471.3" r="3.25" fill="#0a0a0a"/>
<circle cx="634.3" cy="469.8" r="3.25" fill="#0a0a0a"/>
<text x="613.4" y="464.9" font-size="13.8" textLength="51" lengthAdjust="spacingAndGlyphs">L-P95(-)</text>
<text x="633.3" y="491.6" font-size="13.8" textLength="27.8" lengthAdjust="spacingAndGlyphs">L-wt</text>
<text x="582" y="501.6" font-size="13.8" textLength="29.4" lengthAdjust="spacingAndGlyphs">mAb</text>
</g>
<g>
<path d="M444.6 612V801.7M453.37 612V801.7M459.59 612V801.7M464.42 612V801.7M468.37 612V801.7M471.7 612V801.7M474.59 612V801.7M477.14 612V801.7M494.42 612V801.7M503.19 612V801.7M509.41 612V801.7M514.24 612V801.7M518.19 612V801.7M521.52 612V801.7M524.41 612V801.7M526.96 612V801.7M544.24 612V801.7M553.01 612V801.7M559.23 612V801.7M564.06 612V801.7M568.01 612V801.7M571.34 612V801.7M574.23 612V801.7M576.78 612V801.7M594.06 612V801.7M602.83 612V801.7M609.05 612V801.7M613.88 612V801.7M617.83 612V801.7M621.16 612V801.7M624.05 612V801.7M626.6 612V801.7M643.88 612V801.7M652.65 612V801.7M658.87 612V801.7M663.7 612V801.7M667.65 612V801.7M670.98 612V801.7M673.87 612V801.7M676.42 612V801.7" stroke="#f9f9f9" stroke-width="0.9" fill="none"/>
<path d="M479.42 612V801.7M529.24 612V801.7M579.06 612V801.7M628.88 612V801.7M678.7 612V801.7" stroke="#f0f0f0" stroke-width="1" fill="none"/>
<path d="M429.4 611.7V802.4" stroke="#1c1c1c" stroke-width="1" fill="none"/>
<path d="M428.9 791.5H679.2" stroke="#1c1c1c" stroke-width="0.9" fill="none"/>
<path d="M426.4 612.2H429.4M426.4 643.8H429.4M426.4 675.4H429.4M426.4 707.1H429.4M426.4 738.7H429.4M426.4 770.3H429.4M426.4 801.9H429.4" stroke="#0a0a0a" stroke-width="1" fill="none"/>
<path d="M444.6 790.6V792.8M453.37 790.6V792.8M459.59 790.6V792.8M464.42 790.6V792.8M468.37 790.6V792.8M471.7 790.6V792.8M474.59 790.6V792.8M477.14 790.6V792.8M494.42 790.6V792.8M503.19 790.6V792.8M509.41 790.6V792.8M514.24 790.6V792.8M518.19 790.6V792.8M521.52 790.6V792.8M524.41 790.6V792.8M526.96 790.6V792.8M544.24 790.6V792.8M553.01 790.6V792.8M559.23 790.6V792.8M564.06 790.6V792.8M568.01 790.6V792.8M571.34 790.6V792.8M574.23 790.6V792.8M576.78 790.6V792.8M594.06 790.6V792.8M602.83 790.6V792.8M609.05 790.6V792.8M613.88 790.6V792.8M617.83 790.6V792.8M621.16 790.6V792.8M624.05 790.6V792.8M626.6 790.6V792.8M643.88 790.6V792.8M652.65 790.6V792.8M658.87 790.6V792.8M663.7 790.6V792.8M667.65 790.6V792.8M670.98 790.6V792.8M673.87 790.6V792.8M676.42 790.6V792.8" stroke="#0a0a0a" stroke-width="0.55" fill="none" opacity="0.7"/>
<path d="M479.42 789.6V793.4M529.24 789.6V793.4M579.06 789.6V793.4M628.88 789.6V793.4M678.7 789.6V793.4" stroke="#0a0a0a" stroke-width="0.9" fill="none"/>
<text x="418.5" y="614.75" text-anchor="end" font-size="10">3.4</text>
<text x="418.5" y="646.35" text-anchor="end" font-size="10">2.8</text>
<text x="418.5" y="677.95" text-anchor="end" font-size="10">2.2</text>
<text x="418.5" y="709.65" text-anchor="end" font-size="10">1.6</text>
<text x="418.5" y="741.25" text-anchor="end" font-size="10">1.0</text>
<text x="418.5" y="772.85" text-anchor="end" font-size="10">0.4</text>
<text x="423.8" y="814.9" font-size="10">10</text><text x="434" y="812.2" font-size="7">-9</text>
<text x="474.3" y="814.9" font-size="10">10</text><text x="484.5" y="812.2" font-size="7">-8</text>
<text x="521.2" y="814.9" font-size="10">10</text><text x="531.4" y="812.2" font-size="7">-7</text>
<text x="570.8" y="814.9" font-size="10">10</text><text x="581" y="812.2" font-size="7">-6</text>
<text x="620.3" y="814.9" font-size="10">10</text><text x="630.5" y="812.2" font-size="7">-5</text>
<text x="668.3" y="814.9" font-size="10">10</text><text x="678.5" y="812.2" font-size="7">-4</text>
<text x="510.5" y="830.4" font-size="10" textLength="86.6" lengthAdjust="spacingAndGlyphs">Concentration (M)</text>
<text class="yt" transform="translate(394.1 709.6) rotate(-90)" x="-27.9" font-size="10.4" textLength="55.8" lengthAdjust="spacingAndGlyphs">O.D 492 nm</text>
<text class="pn" x="406.1" y="593.3" font-size="25">F)</text>
<path d="M466 790.4 C469.98 789.9 481.98 788.9 489.9 787.4 C497.82 785.9 505.58 785.5 513.5 781.4 C521.42 777.3 529.4 771.38 537.4 762.8 C545.4 754.22 553.52 744.7 561.5 729.9 C569.48 715.1 577.4 688 585.3 674 C593.2 660 604.97 650.58 608.9 645.9" stroke="#0a0a0a" stroke-width="1.25" stroke-dasharray="2.8 1.4" fill="none"/>
<path d="M515.5 790.9 C519.48 790.9 531.45 790.98 539.4 790.9 C547.35 790.82 555.25 790.57 563.2 790.4 C571.15 790.23 579.15 790.18 587.1 789.9 C595.05 789.62 603 789.28 610.9 788.7 C618.8 788.12 626.63 788.08 634.5 786.4 C642.37 784.72 654.17 779.9 658.1 778.6" stroke="#0a0a0a" stroke-width="1.25" stroke-dasharray="2.8 1.4" fill="none"/>
<path d="M509.5 792.2 C513.52 791.9 525.65 791.37 533.6 790.4 C541.55 789.43 549.33 788.4 557.2 786.4 C565.07 784.4 572.9 782.38 580.8 778.4 C588.7 774.42 596.7 772.63 604.6 762.5 C612.5 752.37 620.25 729.15 628.2 717.6 C636.15 706.05 648.28 697.27 652.3 693.2" stroke="#0a0a0a" stroke-width="1.2" fill="none"/>
<path d="M466 786.2L469.6 793.4L462.4 793.4Z" fill="#fff" stroke="#0a0a0a" stroke-width="1"/>
<path d="M489.9 783.2L493.5 790.4L486.3 790.4Z" fill="#fff" stroke="#0a0a0a" stroke-width="1"/>
<path d="M513.5 777.2L517.1 784.4L509.9 784.4Z" fill="#fff" stroke="#0a0a0a" stroke-width="1"/>
<path d="M537.4 758.6L541 765.8L533.8 765.8Z" fill="#fff" stroke="#0a0a0a" stroke-width="1"/>
<path d="M561.5 725.7L565.1 732.9L557.9 732.9Z" fill="#fff" stroke="#0a0a0a" stroke-width="1"/>
<path d="M585.3 669.8L588.9 677L581.7 677Z" fill="#fff" stroke="#0a0a0a" stroke-width="1"/>
<path d="M608.9 641.7L612.5 648.9L605.3 648.9Z" fill="#fff" stroke="#0a0a0a" stroke-width="1"/>
<circle cx="515.5" cy="790.9" r="2.85" fill="#fff" stroke="#0a0a0a" stroke-width="1.3"/>
<circle cx="539.4" cy="790.9" r="2.85" fill="#fff" stroke="#0a0a0a" stroke-width="1.3"/>
<circle cx="563.2" cy="790.4" r="2.85" fill="#fff" stroke="#0a0a0a" stroke-width="1.3"/>
<circle cx="587.1" cy="789.9" r="2.85" fill="#fff" stroke="#0a0a0a" stroke-width="1.3"/>
<circle cx="610.9" cy="788.7" r="2.85" fill="#fff" stroke="#0a0a0a" stroke-width="1.3"/>
<circle cx="634.5" cy="786.4" r="2.85" fill="#fff" stroke="#0a0a0a" stroke-width="1.3"/>
<circle cx="658.1" cy="778.6" r="2.85" fill="#fff" stroke="#0a0a0a" stroke-width="1.3"/>
<circle cx="509.5" cy="792.2" r="2.65" fill="#0a0a0a"/>
<circle cx="533.6" cy="790.4" r="2.65" fill="#0a0a0a"/>
<circle cx="557.2" cy="786.4" r="2.65" fill="#0a0a0a"/>
<circle cx="580.8" cy="778.4" r="2.65" fill="#0a0a0a"/>
<circle cx="604.6" cy="762.5" r="2.65" fill="#0a0a0a"/>
<circle cx="628.2" cy="717.6" r="2.65" fill="#0a0a0a"/>
<circle cx="652.3" cy="693.2" r="2.65" fill="#0a0a0a"/>
<text x="590" y="636.7" font-size="13.8" textLength="31" lengthAdjust="spacingAndGlyphs">mAb</text>
<text x="620.8" y="683.5" font-size="13.8" textLength="52.2" lengthAdjust="spacingAndGlyphs">L-P95(-)</text>
<text x="644.8" y="771.6" font-size="13.8" textLength="27.1" lengthAdjust="spacingAndGlyphs">L-wt</text>
</g>
</svg>
</body>
</html>
